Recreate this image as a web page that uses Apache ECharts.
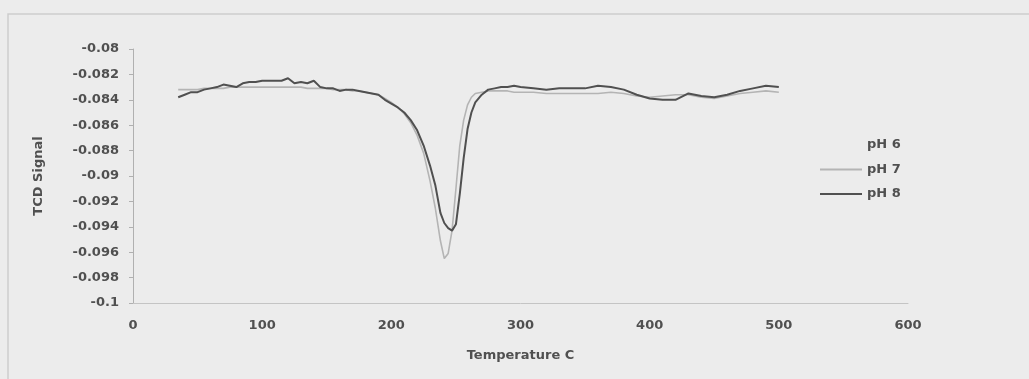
<!DOCTYPE html>
<html>
<head>
<meta charset="utf-8">
<script src="https://cdn.jsdelivr.net/npm/echarts@6/dist/echarts.min.js"></script>
<style>
  html, body { margin: 0; padding: 0; background: #ececec; }
  #main { width: 1029px; height: 379px; }
</style>
</head>
<body>
<div id="main"></div>
<script>
// temperature (C) sample points, shared by the curves
var temps = [35, 40, 45, 50, 55, 60, 65, 70, 75, 80, 85, 90, 95, 100, 105, 110, 115, 120, 125, 130,
  135, 140, 145, 150, 155, 160, 165, 170, 175, 180, 185, 190, 195, 200, 205, 210, 215, 220, 225, 230,
  234, 238, 241, 244, 247, 250, 253, 256, 259, 262, 265, 270, 275, 280, 285, 290, 295, 300, 310, 320,
  330, 340, 350, 360, 370, 380, 390, 400, 410, 420, 430, 440, 450, 460, 470, 480, 490, 500];

// pH 6 is not visible on the chart (only in the legend)
var ph6Values = [];

// pH 7 - light grey curve
var ph7Values = [-0.0832, -0.0832, -0.0832, -0.0832, -0.0831, -0.0831, -0.0831, -0.0831, -0.0830, -0.0830,
  -0.0830, -0.0830, -0.0830, -0.0830, -0.0830, -0.0830, -0.0830, -0.0830, -0.0830, -0.0830,
  -0.0831, -0.0831, -0.0831, -0.0831, -0.0832, -0.0832, -0.0832, -0.0833, -0.0833, -0.0834,
  -0.0835, -0.0836, -0.0839, -0.0842, -0.0846, -0.0851, -0.0858, -0.0868, -0.0882, -0.0904,
  -0.0925, -0.0951, -0.0965, -0.0961, -0.0943, -0.0910, -0.0876, -0.0856, -0.0844, -0.0838,
  -0.0835, -0.0834, -0.0833, -0.0833, -0.0833, -0.0833, -0.0834, -0.0834, -0.0834, -0.0835,
  -0.0835, -0.0835, -0.0835, -0.0835, -0.0834, -0.0835, -0.0837, -0.0838, -0.0837, -0.0836,
  -0.0836, -0.0838, -0.0839, -0.0837, -0.0835, -0.0834, -0.0833, -0.0834];

// pH 8 - dark grey curve
var ph8Values = [-0.0838, -0.0836, -0.0834, -0.0834, -0.0832, -0.0831, -0.0830, -0.0828, -0.0829, -0.0830,
  -0.0827, -0.0826, -0.0826, -0.0825, -0.0825, -0.0825, -0.0825, -0.0823, -0.0827, -0.0826,
  -0.0827, -0.0825, -0.0830, -0.0831, -0.0831, -0.0833, -0.0832, -0.0832, -0.0833, -0.0834,
  -0.0835, -0.0836, -0.0840, -0.0843, -0.0846, -0.0850, -0.0856, -0.0864, -0.0876, -0.0892,
  -0.0907, -0.0929, -0.0937, -0.0941, -0.0943, -0.0938, -0.0914, -0.0886, -0.0863, -0.0850,
  -0.0842, -0.0836, -0.0832, -0.0831, -0.0830, -0.0830, -0.0829, -0.0830, -0.0831, -0.0832,
  -0.0831, -0.0831, -0.0831, -0.0829, -0.0830, -0.0832, -0.0836, -0.0839, -0.0840, -0.0840,
  -0.0835, -0.0837, -0.0838, -0.0836, -0.0833, -0.0831, -0.0829, -0.0830];

var seriesNames = ['pH 6', 'pH 7', 'pH 8'];
var seriesColors = ['#ececec', '#b4b4b4', '#505050'];

var pairs = function (ys) {
  var out = [];
  for (var i = 0; i < ys.length; i++) out.push([temps[i], ys[i]]);
  return out;
};

var font = 'DejaVu Sans';
var txt = '#505050';

var chart = echarts.init(document.getElementById('main'));
chart.setOption({
  backgroundColor: '#ececec',
  animation: false,
  textStyle: { fontFamily: font },
  graphic: [{
    type: 'rect',
    shape: { x: 8, y: 14, width: 1100, height: 420 },
    style: { fill: 'none', stroke: '#cdcdcd', lineWidth: 1.5 }
  }],
  grid: { left: 133, right: 121, top: 49, bottom: 76 },
  legend: {
    orient: 'vertical',
    left: 815,
    top: 133,
    icon: 'rect',
    itemWidth: 42,
    itemHeight: 2,
    itemGap: 10.5,
    textStyle: { fontFamily: font, fontWeight: 'bold', fontSize: 13, color: txt, lineHeight: 14 },
    data: seriesNames
  },
  xAxis: {
    type: 'value',
    min: 0, max: 600, interval: 100,
    name: 'Temperature C',
    nameLocation: 'middle',
    nameGap: 46,
    nameTextStyle: { fontFamily: font, fontWeight: 'bold', fontSize: 13, color: txt },
    axisLine: { show: true, lineStyle: { color: '#c4c4c4', width: 1 } },
    axisTick: { show: false },
    splitLine: { show: false },
    axisLabel: { margin: 16, fontFamily: font, fontWeight: 'bold', fontSize: 13, color: txt }
  },
  yAxis: {
    type: 'value',
    min: -0.1, max: -0.08, interval: 0.002,
    name: 'TCD Signal',
    nameLocation: 'middle',
    nameGap: 88,
    nameTextStyle: { fontFamily: font, fontWeight: 'bold', fontSize: 13, color: txt },
    axisLine: { show: true, lineStyle: { color: '#b0b0b0', width: 1 } },
    axisTick: { show: true, length: 4, lineStyle: { color: '#b0b0b0' } },
    splitLine: { show: false },
    axisLabel: {
      margin: 14, fontFamily: font, fontWeight: 'bold', fontSize: 13, color: txt,
      formatter: function (v) { return String(parseFloat(v.toFixed(3))); }
    }
  },
  series: [
    { name: seriesNames[0], type: 'line', showSymbol: false, color: seriesColors[0],
      lineStyle: { width: 1.5, color: seriesColors[0] }, data: pairs(ph6Values) },
    { name: seriesNames[1], type: 'line', showSymbol: false, color: seriesColors[1],
      lineStyle: { width: 1.6, color: seriesColors[1] }, data: pairs(ph7Values) },
    { name: seriesNames[2], type: 'line', showSymbol: false, color: seriesColors[2],
      lineStyle: { width: 2, color: seriesColors[2] }, data: pairs(ph8Values) }
  ]
});
</script>
</body>
</html>
